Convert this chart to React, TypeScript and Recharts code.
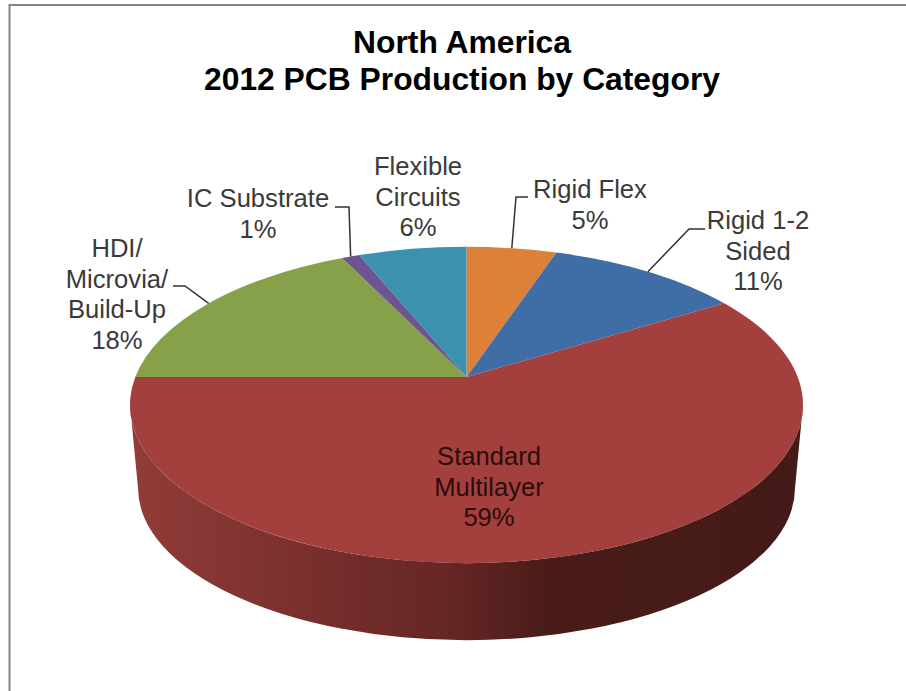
import { Pie, PieChart } from "recharts";

const categories = ["Rigid Flex", "Rigid 1-2 Sided", "Standard Multilayer", "HDI/ Microvia/ Build-Up", "IC Substrate", "Flexible Circuits"];
const shares = [5, 11, 59, 18, 1, 6];
const labelLines = [
  ["Rigid Flex", "5%"],
  ["Rigid 1-2", "Sided", "11%"],
  ["Standard", "Multilayer", "59%"],
  ["HDI/", "Microvia/", "Build-Up", "18%"],
  ["IC Substrate", "1%"],
  ["Flexible", "Circuits", "6%"],
];
const titleLines = ["North America", "2012 PCB Production by Category"];

const FACE = ["#dd8038", "#3f6da6", "#a3403e", "#86a14a", "#6e5490", "#3a92ae"];
const FONT = "'Liberation Sans', Arial, sans-serif";

// label block placement: centre x, first baseline, leader elbow points
const LABEL_POS = [
  { x: 590, y: 198, elbow: [[516, 197], [528, 197]] },
  { x: 758, y: 229, elbow: [[689, 229], [705, 229]] },
  { x: 489, y: 465, elbow: [] },
  { x: 117, y: 257, elbow: [[185, 286], [173, 286]] },
  { x: 258, y: 207, elbow: [[349, 207], [335, 207]] },
  { x: 418, y: 175, elbow: [] },
];

const chartData = categories.map((name, i) => ({ name, value: shares[i] }));

// the pie is tilted, so the apex sits above the centre of the rim ellipse
const SQUASH = 0.47;
const RAY_SQUASH = 0.45;
const APEX_SHIFT = 28;
const DEPTH = 83;
const BOTTOM_RX_LOSS = 8;

const RAD = Math.PI / 180;

// where a ray from the apex at a Recharts angle meets the rim
function rimPoint(cx: number, cy: number, r: number, angle: number) {
  const ry = r * SQUASH;
  const dx = Math.cos(angle * RAD);
  const dy = -RAY_SQUASH * Math.sin(angle * RAD);
  const a = (dx * dx) / (r * r) + (dy * dy) / (ry * ry);
  const b = (-2 * APEX_SHIFT * dy) / (ry * ry);
  const c = (APEX_SHIFT * APEX_SHIFT) / (ry * ry) - 1;
  const t = (-b + Math.sqrt(b * b - 4 * a * c)) / (2 * a);
  return { x: cx + dx * t, y: cy + dy * t };
}

function TiltedSlice(props: any) {
  const { cx, cy, outerRadius: r, startAngle, endAngle, fill } = props;
  const ry = r * SQUASH;
  const ey = cy + APEX_SHIFT;
  const p1 = rimPoint(cx, cy, r, startAngle);
  const p2 = rimPoint(cx, cy, r, endAngle);
  const a1 = Math.atan2((p1.y - ey) / ry, (p1.x - cx) / r);
  const a2 = Math.atan2((p2.y - ey) / ry, (p2.x - cx) / r);
  const span = (a2 - a1 + Math.PI * 2) % (Math.PI * 2);
  const large = span > Math.PI ? 1 : 0;
  const hasFront = ((Math.PI / 2 - a1 + Math.PI * 2) % (Math.PI * 2)) < span;
  const botRx = r - BOTTOM_RX_LOSS;
  const botRy = ry - 6;
  const botY = ey + DEPTH;
  return (
    <g>
      {hasFront && (
        <path
          fill="url(#wallShade)"
          d={`M${cx + r},${ey} A${r},${ry} 0 0 1 ${cx - r},${ey} L${cx - botRx},${botY} A${botRx},${botRy} 0 0 0 ${cx + botRx},${botY} Z`}
        />
      )}
      <path
        fill={fill}
        d={`M${cx},${cy} L${p1.x},${p1.y} A${r},${ry} 0 ${large} 1 ${p2.x},${p2.y} Z`}
      />
    </g>
  );
}

function SliceLabel(props: any) {
  const { cx, cy, outerRadius, midAngle, index } = props;
  const pos = LABEL_POS[index];
  const lines = labelLines[index];
  const start = rimPoint(cx, cy, outerRadius, midAngle);
  const leader = [[start.x, start.y], ...pos.elbow].map((p) => p.join(",")).join(" ");
  return (
    <g>
      {pos.elbow.length > 0 && <polyline points={leader} fill="none" stroke="#333" strokeWidth={1.5} />}
      <text x={pos.x} textAnchor="middle" fontFamily={FONT} fontSize={25.6} fill={index === 2 ? "#2e0b0b" : "#3a3a3a"}>
        {lines.map((line, i) => (
          <tspan key={line} x={pos.x} y={pos.y + i * 30.5}>
            {line}
          </tspan>
        ))}
      </text>
    </g>
  );
}

export default function App() {
  return (
    <div style={{ position: "absolute", left: 0, top: 0, width: 906, height: 691, background: "#fff" }}>
      <PieChart width={906} height={691} margin={{ top: 0, right: 0, bottom: 0, left: 0 }}>
        <defs>
          <linearGradient id="wallShade" gradientUnits="userSpaceOnUse" x1="130" y1="0" x2="803" y2="0">
            <stop offset="0%" stopColor="#913c39" />
            <stop offset="25%" stopColor="#7a302d" />
            <stop offset="48%" stopColor="#642624" />
            <stop offset="62%" stopColor="#4a1c19" />
            <stop offset="100%" stopColor="#431a17" />
          </linearGradient>
        </defs>
        {/* the frame is cropped in the source: only its top and left edges show */}
        <polyline points="906,5 9.5,5 9.5,691" fill="none" stroke="#858585" strokeWidth={2} />
        <text textAnchor="middle" fontFamily={FONT} fontSize={31.8} fontWeight={700} fill="#000">
          {titleLines.map((line, i) => (
            <tspan key={line} x={462} y={53 + i * 37}>
              {line}
            </tspan>
          ))}
        </text>
        <Pie
          data={chartData.map((d, i) => ({ ...d, fill: FACE[i] }))}
          dataKey="value"
          nameKey="name"
          cx={466.5}
          cy={377}
          innerRadius={0}
          outerRadius={336.5}
          startAngle={90}
          endAngle={-270}
          stroke="none"
          isAnimationActive={false}
          shape={TiltedSlice}
          label={SliceLabel}
          labelLine={false}
        />
      </PieChart>
    </div>
  );
}
